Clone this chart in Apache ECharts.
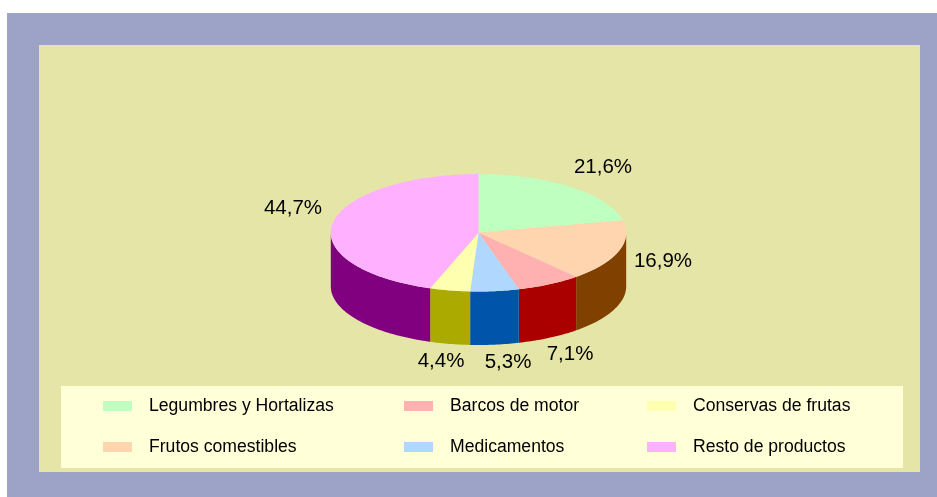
<!DOCTYPE html>
<html>
<head>
<meta charset="utf-8">
<style>
  html, body { margin: 0; padding: 0; background: #ffffff; }
  #chart { width: 937px; height: 497px; }
</style>
</head>
<body>
<div id="chart"></div>
<script src="https://cdn.jsdelivr.net/npm/echarts@6/dist/echarts.min.js"></script>
<script>
const categories = ['Legumbres y Hortalizas', 'Frutos comestibles', 'Barcos de motor', 'Medicamentos', 'Conservas de frutas', 'Resto de productos'];
const values = [21.6, 16.9, 7.1, 5.3, 4.4, 44.7];
const topColors = ['#bfffbf', '#ffd5b0', '#ffb0b0', '#b0d8ff', '#ffffb0', '#ffb0ff'];
const sideColors = ['#008000', '#804000', '#aa0000', '#0055aa', '#aaaa00', '#800080'];
const labels = ['21,6%', '16,9%', '7,1%', '5,3%', '4,4%', '44,7%'];
// where the percent labels sit, px
const labelPos = [[603, 167], [663, 261], [570, 354], [508, 362], [441, 361], [293, 208]];

const cx = 478.5, cy = 232.8, rx = 147.7, ry = 58.7, depth = 53.5;
const total = values.reduce((a, b) => a + b, 0);

function pt(deg, dy) {
  const a = deg * Math.PI / 180;
  return [cx + rx * Math.sin(a), cy - ry * Math.cos(a) + dy];
}

function arc(from, to, dy) {
  const pts = [];
  const n = Math.max(2, Math.ceil(Math.abs(to - from)));
  for (let i = 0; i <= n; i++) pts.push(pt(from + (to - from) * i / n, dy));
  return pts;
}

function sliceRenderer(idx) {
  return function (params, api) {
    const before = values.slice(0, idx).reduce((a, b) => a + b, 0);
    const start = before / total * 360;
    const end = start + api.value(0) / total * 360;
    const children = [];
    // only the front half of the wall can be seen
    const s = Math.max(start, 90), e = Math.min(end, 270);
    if (e > s) {
      children.push({
        type: 'polygon',
        shape: { points: arc(s, e, 0).concat(arc(e, s, depth)) },
        style: { fill: sideColors[idx] }
      });
    }
    children.push({
      type: 'polygon',
      shape: { points: [[cx, cy]].concat(arc(start, end, 0)) },
      style: { fill: topColors[idx] }
    });
    children.push({
      type: 'text',
      style: {
        text: labels[idx], x: labelPos[idx][0], y: labelPos[idx][1],
        fill: '#000', align: 'center', verticalAlign: 'middle',
        font: '20.5px "Liberation Sans"'
      }
    });
    return { type: 'group', children: children };
  };
}

function legendCol(names, left) {
  return {
    data: names, orient: 'vertical', left: left, top: 397,
    icon: 'rect',
    itemWidth: 29, itemHeight: 10, itemGap: 23, selectedMode: false,
    textStyle: { fontFamily: 'Liberation Sans', fontSize: 17.6, color: '#000', padding: [0, 0, 0, 12] },
    padding: 0
  };
}

const chart = echarts.init(document.getElementById('chart'));
chart.setOption({
  animation: false,
  backgroundColor: '#ffffff',
  graphic: [
    { type: 'rect', z: -10, shape: { x: 7, y: 13, width: 930, height: 484 }, style: { fill: '#9da3c6' } },
    { type: 'rect', z: -9, shape: { x: 39, y: 45, width: 881, height: 427 }, style: { fill: '#e5e5a8' } },
    { type: 'rect', z: -8, shape: { x: 61, y: 386, width: 842, height: 82 }, style: { fill: '#ffffd8' } }
  ],
  legend: [
    legendCol([categories[0], categories[1]], 103),
    legendCol([categories[2], categories[3]], 404),
    legendCol([categories[4], categories[5]], 647)
  ],
  series: categories.map((name, i) => ({
    type: 'custom',
    name: name,
    coordinateSystem: 'none',
    itemStyle: { color: topColors[i] },
    data: [[values[i]]],
    renderItem: sliceRenderer(i)
  }))
});
</script>
</body>
</html>
